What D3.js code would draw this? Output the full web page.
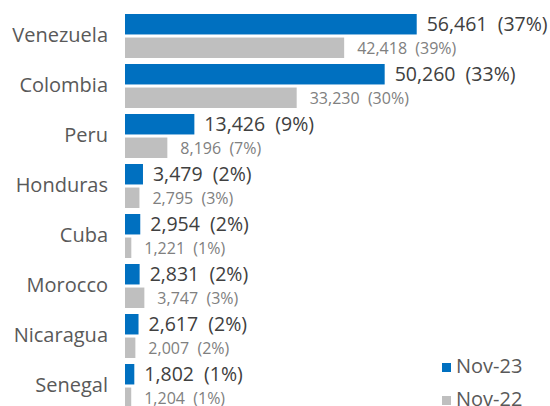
<!DOCTYPE html>
<html>
<head>
<meta charset="utf-8">
<script src="https://cdn.jsdelivr.net/npm/d3@7"></script>
<style>
  body { margin: 0; background: #fff; }
  text { font-family: 'Open Sans', sans-serif; }
</style>
</head>
<body>
<svg id="chart" width="550" height="406"></svg>
<script>
// data
var countries = ['Venezuela','Colombia','Peru','Honduras','Cuba','Morocco','Nicaragua','Senegal'];
var series = ['Nov-23','Nov-22'];
var nov23 = [56461, 50260, 13426, 3479, 2954, 2831, 2617, 1802];
var nov23pct = [37, 33, 9, 2, 2, 2, 2, 1];
var nov22 = [42418, 33230, 8196, 2795, 1221, 3747, 2007, 1204];
var nov22pct = [39, 30, 7, 3, 1, 3, 2, 1];

var colors = {'Nov-23':'#0070C0', 'Nov-22':'#BFBFBF'};
var fmt = d3.format(',');

var svg = d3.select('#chart');

var x = d3.scaleLinear()
    .domain([0, 60000])
    .range([125, 435]);

var y0 = d3.scaleBand()
    .domain(countries)
    .range([14, 408])
    .paddingInner(0.12);

var y1 = d3.scaleBand()
    .domain(series)
    .range([0, y0.bandwidth()])
    .paddingInner(0.13);

var rows = [];
countries.forEach(function(c, i){
    rows.push({country:c, s:'Nov-23', v:nov23[i], p:nov23pct[i]});
    rows.push({country:c, s:'Nov-22', v:nov22[i], p:nov22pct[i]});
});

svg.selectAll('.bar')
    .data(rows)
    .join('rect')
    .attr('class','bar')
    .attr('x', x(0))
    .attr('y', d => y0(d.country) + y1(d.s))
    .attr('width', d => x(d.v) - x(0))
    .attr('height', y1.bandwidth())
    .attr('fill', d => colors[d.s]);

svg.selectAll('.val')
    .data(rows)
    .join('text')
    .attr('class','val')
    .attr('x', d => x(d.v) + (d.s == 'Nov-23' ? 10 : 13))
    .attr('y', d => y0(d.country) + y1(d.s) + y1.bandwidth()/2)
    .attr('dy','0.36em')
    .attr('fill', d => d.s == 'Nov-23' ? '#404040' : '#808080')
    .style('font-size', d => d.s == 'Nov-23' ? '19.5px' : '16px')
    .style('white-space','pre')
    .text(d => fmt(d.v) + '  (' + d.p + '%)');

// category axis, no line or ticks
var yAxis = d3.axisLeft(y0).tickSize(0).tickPadding(0);
var ax = svg.append('g')
    .attr('transform','translate(108,0)')
    .call(yAxis);
ax.select('.domain').remove();
ax.selectAll('text')
    .attr('fill','#595959')
    .style('font-size','20px')
    .style('font-family',"'Open Sans', sans-serif");

// legend
var lg = svg.selectAll('.legend')
    .data(series)
    .join('g')
    .attr('class','legend')
    .attr('transform', (d,i) => 'translate(442,' + (363 + i*33) + ')');
lg.append('rect')
    .attr('width',9)
    .attr('height',9)
    .attr('fill', d => colors[d]);
lg.append('text')
    .attr('x',14)
    .attr('y',10)
    .attr('fill','#595959')
    .style('font-size','20px')
    .text(d => d);
</script>
</body>
</html>
